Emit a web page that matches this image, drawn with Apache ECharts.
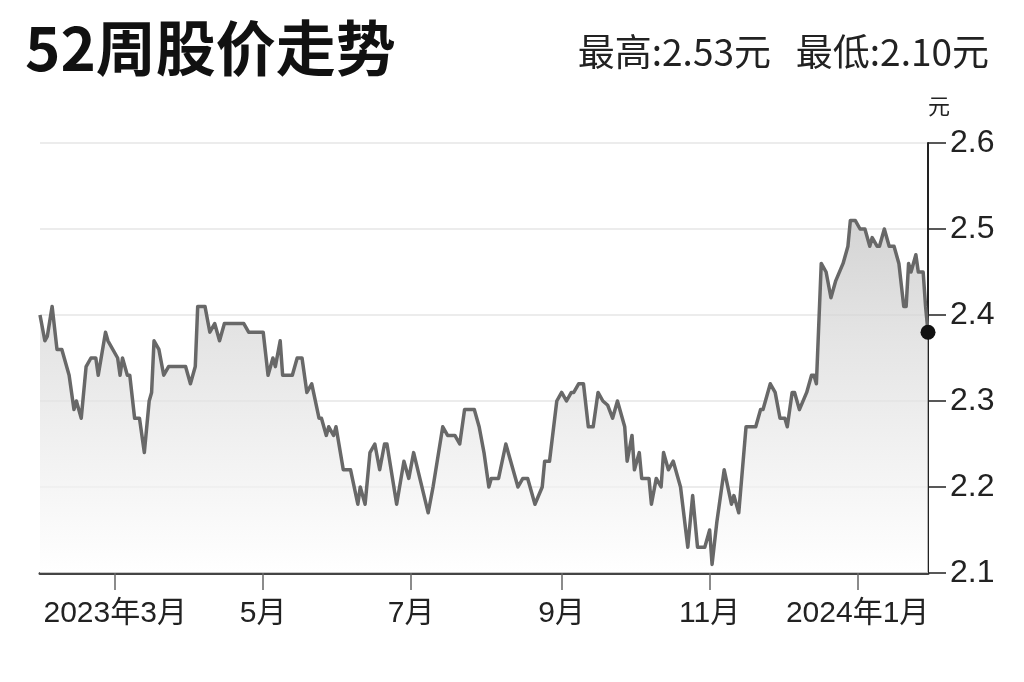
<!DOCTYPE html>
<html lang="zh">
<head>
  <title>52周股价走势</title>
  <meta charset="utf-8" />
  <script src="https://cdn.jsdelivr.net/npm/echarts/dist/echarts.min.js"></script>
  <style>
    html, body {
      margin: 0;
      padding: 0;
      background-color: #ffffff;
    }
    #main {
      width: 1024px;
      height: 682px;
    }
  </style>
</head>
<body>
<div id="main"></div>
<script type="text/javascript">
  // 52周收盘价
  let priceDates = [
    '2023-01-29', '2023-01-31', '2023-02-01', '2023-02-03', '2023-02-05', '2023-02-07', '2023-02-10', '2023-02-12',
    '2023-02-13', '2023-02-15', '2023-02-17', '2023-02-19', '2023-02-21', '2023-02-22', '2023-02-25', '2023-02-26',
    '2023-03-02', '2023-03-03', '2023-03-04', '2023-03-06', '2023-03-07', '2023-03-09', '2023-03-11', '2023-03-13',
    '2023-03-15', '2023-03-16', '2023-03-17', '2023-03-19', '2023-03-21', '2023-03-23', '2023-03-30', '2023-04-01',
    '2023-04-03', '2023-04-04', '2023-04-07', '2023-04-09', '2023-04-11', '2023-04-13', '2023-04-15', '2023-04-23',
    '2023-04-25', '2023-05-01', '2023-05-03', '2023-05-05', '2023-05-06', '2023-05-08', '2023-05-09', '2023-05-13',
    '2023-05-15', '2023-05-17', '2023-05-19', '2023-05-21', '2023-05-24', '2023-05-25', '2023-05-27', '2023-05-28',
    '2023-05-30', '2023-05-31', '2023-06-03', '2023-06-06', '2023-06-09', '2023-06-10', '2023-06-12', '2023-06-14',
    '2023-06-16', '2023-06-18', '2023-06-20', '2023-06-21', '2023-06-25', '2023-06-28', '2023-06-30', '2023-07-02',
    '2023-07-08', '2023-07-10', '2023-07-14', '2023-07-16', '2023-07-19', '2023-07-21', '2023-07-23', '2023-07-27',
    '2023-07-29', '2023-07-31', '2023-08-02', '2023-08-03', '2023-08-06', '2023-08-09', '2023-08-11', '2023-08-14',
    '2023-08-16', '2023-08-18', '2023-08-21', '2023-08-24', '2023-08-25', '2023-08-27', '2023-08-30', '2023-09-01',
    '2023-09-03', '2023-09-05', '2023-09-06', '2023-09-08', '2023-09-10', '2023-09-12', '2023-09-14', '2023-09-16',
    '2023-09-18', '2023-09-20', '2023-09-22', '2023-09-24', '2023-09-27', '2023-09-28', '2023-09-30', '2023-10-01',
    '2023-10-03', '2023-10-04', '2023-10-07', '2023-10-08', '2023-10-10', '2023-10-12', '2023-10-13', '2023-10-15',
    '2023-10-17', '2023-10-20', '2023-10-23', '2023-10-25', '2023-10-27', '2023-10-30', '2023-11-01', '2023-11-02',
    '2023-11-04', '2023-11-07', '2023-11-10', '2023-11-11', '2023-11-13', '2023-11-16', '2023-11-18', '2023-11-20',
    '2023-11-22', '2023-11-23', '2023-11-26', '2023-11-28', '2023-11-30', '2023-12-02', '2023-12-03', '2023-12-05',
    '2023-12-06', '2023-12-08', '2023-12-11', '2023-12-13', '2023-12-14', '2023-12-15', '2023-12-17', '2023-12-19',
    '2023-12-21', '2023-12-23', '2023-12-26', '2023-12-28', '2023-12-29', '2023-12-31', '2024-01-02', '2024-01-04',
    '2024-01-06', '2024-01-07', '2024-01-09', '2024-01-10', '2024-01-12', '2024-01-14', '2024-01-16', '2024-01-18',
    '2024-01-20', '2024-01-21', '2024-01-22', '2024-01-23', '2024-01-25', '2024-01-26', '2024-01-28', '2024-01-29',
    '2024-01-30'
  ]
  let priceValues = [
    2.40, 2.37, 2.375, 2.41, 2.36, 2.36, 2.33, 2.29,
    2.30, 2.28, 2.34, 2.35, 2.35, 2.33, 2.38, 2.37,
    2.35, 2.33, 2.35, 2.33, 2.33, 2.28, 2.28, 2.24,
    2.30, 2.31, 2.37, 2.36, 2.33, 2.34, 2.34, 2.32,
    2.34, 2.41, 2.41, 2.38, 2.39, 2.37, 2.39, 2.39,
    2.38, 2.38, 2.33, 2.35, 2.34, 2.37, 2.33, 2.33,
    2.35, 2.35, 2.31, 2.32, 2.28, 2.28, 2.26, 2.27,
    2.26, 2.27, 2.22, 2.22, 2.18, 2.20, 2.18, 2.24,
    2.25, 2.22, 2.25, 2.25, 2.18, 2.23, 2.21, 2.24,
    2.17, 2.20, 2.27, 2.26, 2.26, 2.25, 2.29, 2.29,
    2.27, 2.24, 2.20, 2.21, 2.21, 2.25, 2.23, 2.20,
    2.21, 2.21, 2.18, 2.20, 2.23, 2.23, 2.30, 2.31,
    2.30, 2.31, 2.31, 2.32, 2.32, 2.27, 2.27, 2.31,
    2.30, 2.295, 2.28, 2.30, 2.27, 2.23, 2.26, 2.22,
    2.24, 2.21, 2.21, 2.18, 2.21, 2.20, 2.24, 2.22,
    2.23, 2.20, 2.13, 2.19, 2.13, 2.13, 2.15, 2.11,
    2.16, 2.22, 2.18, 2.19, 2.17, 2.27, 2.27, 2.27,
    2.29, 2.29, 2.32, 2.31, 2.28, 2.28, 2.27, 2.31,
    2.31, 2.29, 2.31, 2.33, 2.33, 2.32, 2.46, 2.45,
    2.42, 2.44, 2.46, 2.48, 2.51, 2.51, 2.50, 2.50,
    2.48, 2.49, 2.48, 2.48, 2.50, 2.48, 2.48, 2.46,
    2.41, 2.41, 2.46, 2.45, 2.47, 2.45, 2.45, 2.41,
    2.38
  ]

  // 横轴刻度
  let tickDates = ['2023-03-01', '2023-05-01', '2023-07-01', '2023-09-01', '2023-11-01', '2024-01-01']
  let tickLabels = ['2023年3月', '5月', '7月', '9月', '11月', '2024年1月']

  let rangeStart = '2023-01-29'
  let rangeEnd = '2024-01-30'

  let titleText = '52周股价走势'
  let highLowText = '最高:2.53元   最低:2.10元'
  let unitText = '元'

  let fontLatin = "'Liberation Sans', 'Noto Sans CJK SC', sans-serif"
  let fontCJK = "'Noto Sans CJK SC', sans-serif"

  // 日期 -> 时间戳（本地时区）
  let toTime = (d) => +echarts.time.parse(d)

  let tickTimes = tickDates.map(toTime)
  let seriesData = priceDates.map((d, i) => [toTime(d), priceValues[i]])
  let lastIndex = priceDates.length - 1

  let chartLine = echarts.init(document.getElementById('main'))

  let lineOption = {
    backgroundColor: '#ffffff',
    animation: false,
    title: [
      {
        text: titleText,
        left: 20,
        top: 13,
        textStyle: {
          fontFamily: fontCJK,
          fontSize: 60,
          fontWeight: 'bold',
          color: '#111111',
        },
      },
      {
        text: highLowText,
        right: 30,
        top: 28,
        textStyle: {
          fontFamily: fontCJK,
          fontSize: 37,
          fontWeight: 'normal',
          color: '#222222',
        },
      },
    ],
    grid: {
      left: 40,
      right: 96,
      top: 143,
      bottom: 109,
      containLabel: false,
    },
    xAxis: {
      type: 'value',
      min: toTime(rangeStart),
      max: toTime(rangeEnd),
      axisLine: {
        show: true,
        lineStyle: { color: '#444444', width: 3 },
      },
      axisTick: {
        show: true,
        length: 17,
        customValues: tickTimes,
        lineStyle: { color: '#666666', width: 1.5 },
      },
      axisLabel: {
        customValues: tickTimes,
        margin: 26,
        fontFamily: fontLatin,
        fontSize: 30,
        color: '#222222',
        formatter: function (value) {
          let idx = tickTimes.indexOf(+value)
          return idx >= 0 ? tickLabels[idx] : ''
        },
      },
      splitLine: { show: false },
    },
    yAxis: {
      type: 'value',
      position: 'right',
      min: 2.1,
      max: 2.6,
      interval: 0.1,
      name: unitText,
      nameLocation: 'end',
      nameGap: 26,
      nameTextStyle: {
        fontFamily: fontCJK,
        fontSize: 22,
        color: '#222222',
        align: 'left',
      },
      axisLine: {
        show: true,
        lineStyle: { color: '#222222', width: 2 },
      },
      axisTick: {
        show: true,
        length: 18,
        lineStyle: { color: '#222222', width: 1.5 },
      },
      axisLabel: {
        margin: 22,
        fontFamily: fontLatin,
        fontSize: 32,
        color: '#222222',
        formatter: (value) => value.toFixed(1),
      },
      splitLine: {
        show: true,
        lineStyle: { color: '#ececec', width: 2 },
      },
    },
    series: [
      {
        name: '股价',
        type: 'line',
        data: seriesData,
        showSymbol: false,
        smooth: false,
        lineStyle: { color: '#686868', width: 3.5, join: 'round' },
        areaStyle: {
          origin: 'start',
          color: new echarts.graphic.LinearGradient(0, 0, 0, 1, [
            { offset: 0, color: '#c2c2c2' },
            { offset: 0.35, color: '#dadada' },
            { offset: 0.75, color: '#f1f1f1' },
            { offset: 1, color: '#ffffff' },
          ]),
        },
        markPoint: {
          symbol: 'circle',
          symbolSize: 15,
          itemStyle: { color: '#111111' },
          label: { show: false },
          data: [
            { coord: seriesData[lastIndex] },
          ],
        },
      },
    ],
  }

  chartLine.setOption(lineOption)
</script>
</body>
</html>
